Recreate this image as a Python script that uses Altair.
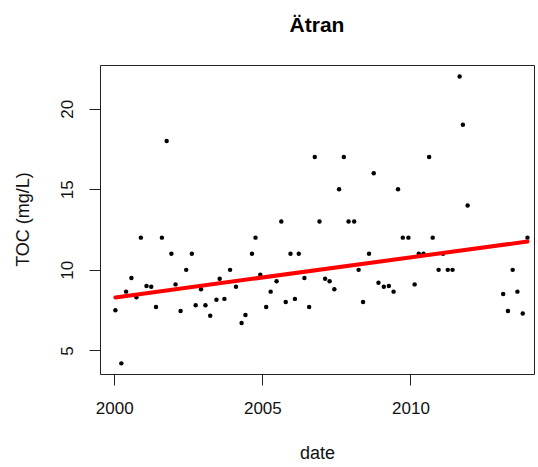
import altair as alt
import pandas as pd

# Sampling dates (decimal years) and TOC concentrations (mg/L)
dates = [
    2000.04, 2000.24, 2000.40, 2000.58, 2000.75, 2000.90, 2001.09, 2001.25,
    2001.41, 2001.61, 2001.77, 2001.93, 2002.07, 2002.24, 2002.43, 2002.62,
    2002.75, 2002.93, 2003.08, 2003.24, 2003.45, 2003.56, 2003.72, 2003.91,
    2004.11, 2004.30, 2004.43, 2004.65, 2004.77, 2004.93, 2005.13, 2005.28,
    2005.48, 2005.64, 2005.79, 2005.95, 2006.10, 2006.23, 2006.42, 2006.58,
    2006.77, 2006.93, 2007.12, 2007.27, 2007.43, 2007.59, 2007.75, 2007.91,
    2008.10, 2008.25, 2008.40, 2008.60, 2008.76, 2008.92, 2009.10, 2009.27,
    2009.43, 2009.58, 2009.74, 2009.93, 2010.14, 2010.28, 2010.44, 2010.63,
    2010.75, 2010.95, 2011.10, 2011.26, 2011.42, 2011.66, 2011.77, 2011.93,
    2013.13, 2013.29, 2013.45, 2013.61, 2013.79, 2013.95,
]
toc = [
    7.5, 4.2, 8.65, 9.5, 8.3, 12.0, 9.0, 8.95,
    7.7, 12.0, 18.0, 11.0, 9.1, 7.45, 10.0, 11.0,
    7.8, 8.8, 7.8, 7.15, 8.15, 9.45, 8.2, 10.0,
    8.95, 6.7, 7.2, 11.0, 12.0, 9.7, 7.7, 8.65,
    9.3, 13.0, 8.0, 11.0, 8.2, 11.0, 9.5, 7.7,
    17.0, 13.0, 9.45, 9.3, 8.8, 15.0, 17.0, 13.0,
    13.0, 10.0, 8.0, 11.0, 16.0, 9.2, 8.95, 9.0,
    8.65, 15.0, 12.0, 12.0, 9.1, 11.0, 11.0, 17.0,
    12.0, 10.0, 11.0, 10.0, 10.0, 22.0, 19.0, 14.0,
    8.5, 7.45, 10.0, 8.65, 7.3, 12.0,
]

# Linear trend line end points
trend_dates = [2000.04, 2013.95]
trend_toc = [8.29, 11.76]

x_ticks = [2000, 2005, 2010]
y_ticks = [5, 10, 15, 20]

obs = pd.DataFrame({"date": dates, "toc": toc})
trend = pd.DataFrame({"date": trend_dates, "toc": trend_toc})

FONT = "Liberation Sans"

x_scale = alt.Scale(domain=[1999.52, 2014.17], nice=False, zero=False)
y_scale = alt.Scale(domain=[3.54, 22.71], nice=False, zero=False)

x_axis = alt.Axis(
    values=x_ticks, format="d", title="date",
    titleX=217, titleY=79, titleBaseline="middle", titleAlign="center",
    labelPadding=15,
)
y_axis = alt.Axis(
    values=y_ticks, title="TOC (mg/L)", labelAngle=270,
    labelAlign="center", labelBaseline="bottom", labelPadding=13,
    titleX=-77, titleY=154, titleAngle=270, titleAlign="center",
    titleBaseline="middle",
)

points = alt.Chart(obs).mark_circle(size=20, color="black", opacity=1).encode(
    x=alt.X("date:Q", scale=x_scale, axis=x_axis),
    y=alt.Y("toc:Q", scale=y_scale, axis=y_axis),
)

line = alt.Chart(trend).mark_line(color="#ff0000", strokeWidth=4, strokeCap="round").encode(
    x=alt.X("date:Q", scale=x_scale),
    y=alt.Y("toc:Q", scale=y_scale),
)

chart = (
    alt.layer(points, line)
    .properties(
        width=434,
        height=309,
        autosize=alt.AutoSizeParams(type="none"),
        padding={"left": 100, "top": 65, "right": 4, "bottom": 93},
        title=alt.TitleParams(
            "Ätran", font=FONT, fontSize=21, fontWeight="bold", color="black",
            anchor="middle", baseline="alphabetic", offset=12,
        ),
        background="white",
    )
    .configure_view(stroke="#222", strokeWidth=1)
    .configure_axis(
        grid=False, domain=False, tickColor="#222", tickSize=11, tickWidth=1,
        labelFont=FONT, labelFontSize=17, labelColor="#111",
        titleFont=FONT, titleFontSize=18, titleColor="#111", titleFontWeight="normal",
    )
)

chart.save("out.html", embed_options={"renderer": "svg", "actions": False})
